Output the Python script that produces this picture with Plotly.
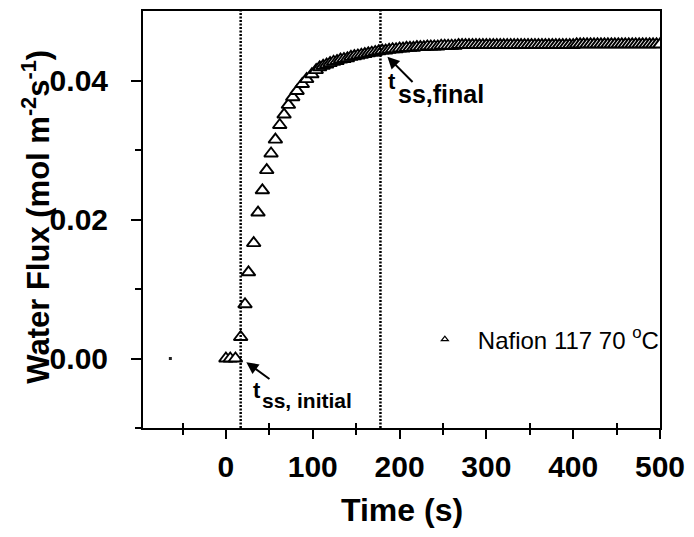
import plotly.graph_objects as go

# Water flux through Nafion 117 at 70 °C after the humidity step
time_s = [
    0, 5, 11, 17, 22, 26, 32, 37, 42, 47, 52, 57, 62, 67, 72, 77, 82, 88, 93, 99, 104,
    108, 112, 116, 120, 124, 128, 132, 136, 140, 144, 148, 152, 156, 160, 164, 168,
    172, 176, 180, 184, 188, 192, 196, 200, 204, 208, 212, 216, 220, 224, 228, 232,
    236, 240, 244, 248, 252, 256, 260, 264, 268, 272, 276, 280, 284, 288, 292, 296,
    300, 304, 308, 312, 316, 320, 324, 328, 332, 336, 340, 344, 348, 352, 356, 360,
    364, 368, 372, 376, 380, 384, 388, 392, 396, 400, 404, 408, 412, 416, 420, 424,
    428, 432, 436, 440, 444, 448, 452, 456, 460, 464, 468, 472, 476, 480, 484, 488,
    492, 496, 500,
]
water_flux = [
    0.0000, 0.0000, 0.0000, 0.0031, 0.0078, 0.0124, 0.0166, 0.0210, 0.0242, 0.0271,
    0.0295, 0.0315, 0.0336, 0.0351, 0.0365, 0.0376, 0.0385, 0.0395, 0.0402, 0.0409,
    0.0415,
    0.0419, 0.0421, 0.0423, 0.0425, 0.0427, 0.0428, 0.0430, 0.0431, 0.0432, 0.0434,
    0.0435, 0.0436, 0.0437, 0.0438, 0.0439, 0.0440, 0.0441, 0.0442, 0.0443, 0.0443,
    0.0444, 0.0445, 0.0445, 0.0446, 0.0446, 0.0447, 0.0447, 0.0447, 0.0448, 0.0448,
    0.0448, 0.0449, 0.0449, 0.0449, 0.0449, 0.0450, 0.0450, 0.0450, 0.0450, 0.0450,
    0.0451, 0.0451, 0.0451, 0.0451, 0.0451, 0.0451, 0.0451, 0.0451, 0.0451, 0.0451,
    0.0451, 0.0451, 0.0451, 0.0451, 0.0451, 0.0451, 0.0451, 0.0451, 0.0451, 0.0451,
    0.0451, 0.0451, 0.0451, 0.0451, 0.0451, 0.0451, 0.0451, 0.0451, 0.0451, 0.0451,
    0.0451, 0.0451, 0.0451, 0.0451, 0.0452, 0.0452, 0.0452, 0.0452, 0.0452, 0.0452,
    0.0452, 0.0452, 0.0452, 0.0452, 0.0452, 0.0452, 0.0452, 0.0452, 0.0452, 0.0452,
    0.0452, 0.0452, 0.0452, 0.0452, 0.0452, 0.0452, 0.0452, 0.0452, 0.0452,
]

# isolated stray point left of the step
stray_time = [-64]
stray_flux = [0.0]

# steady-state markers
t_ss_initial = 17
t_ss_final = 178

x_range = [-95.5, 500]
y_range = [-0.01, 0.05]
x_ticks = [0, 100, 200, 300, 400, 500]
x_minor = [-50, 50, 150, 250, 350, 450]
y_ticks = [0.00, 0.02, 0.04]
y_tick_text = ["0.00", "0.02", "0.04"]

legend_label = "Nafion 117 70 <sup>o</sup>C"
FONT = "Liberation Sans, Arial, Helvetica, sans-serif"

fig = go.Figure()

fig.add_trace(go.Scatter(
    x=time_s, y=water_flux, mode="markers", showlegend=False,
    marker=dict(symbol="triangle-up", size=12, color="white",
                line=dict(color="black", width=1.9)),
))

fig.add_trace(go.Scatter(
    x=stray_time, y=stray_flux, mode="markers", showlegend=False,
    xaxis="x2",
    marker=dict(symbol="square", size=3, color="#222", line=dict(width=0)),
))

# legend entry with a small symbol
fig.add_trace(go.Scatter(
    x=[None], y=[None], mode="markers", name=legend_label,
    marker=dict(symbol="triangle-up-open", size=6, color="black",
                line=dict(color="black", width=1.3)),
))

for tx in (t_ss_initial, t_ss_final):
    fig.add_shape(type="line", xref="x", yref="paper", x0=tx, x1=tx, y0=0, y1=1,
                  line=dict(color="black", width=2.5, dash="2px,1.5px"))

ann = []
# t_ss, initial label and arrow
ann.append(dict(x=36, y=-0.00454, xref="x", yref="y", text="<b>t</b>", showarrow=False,
                font=dict(family=FONT, size=22, color="black"), xanchor="center", yanchor="middle"))
ann.append(dict(x=39.4, y=-0.0061, xref="x", yref="y", text="<b>ss, initial</b>", showarrow=False,
                font=dict(family=FONT, size=21, color="black"), xanchor="left", yanchor="middle"))
ann.append(dict(x=23.5, y=-0.00053, ax=51.9, ay=-0.00311, xref="x", yref="y", axref="x", ayref="y",
                text="", showarrow=True, arrowhead=2, arrowsize=1.2, arrowwidth=2,
                arrowcolor="black", standoff=0))
# t_ss,final label and arrow
ann.append(dict(x=191.7, y=0.03986, xref="x", yref="y", text="<b>t</b>", showarrow=False,
                font=dict(family=FONT, size=22, color="black"), xanchor="center", yanchor="middle"))
ann.append(dict(x=196.3, y=0.0380, xref="x", yref="y", text="<b>ss,final</b>", showarrow=False,
                font=dict(family=FONT, size=25, color="black"), xanchor="left", yanchor="middle"))
ann.append(dict(x=186, y=0.04343, ax=216.7, ay=0.03957, xref="x", yref="y", axref="x", ayref="y",
                text="", showarrow=True, arrowhead=2, arrowsize=1.2, arrowwidth=2,
                arrowcolor="black", standoff=0))
# axis titles
ann.append(dict(x=0.5, y=-0.196, xref="paper", yref="paper", text="<b>Time (s)</b>", showarrow=False,
                font=dict(family=FONT, size=32, color="black"), xanchor="center", yanchor="middle"))
ann.append(dict(x=-0.206, y=0.508, xref="paper", yref="paper", textangle=-90,
                text="<b>Water Flux (mol m<sup>-2</sup>s<sup>-1</sup>)</b>", showarrow=False,
                font=dict(family=FONT, size=31, color="black"), xanchor="center", yanchor="middle"))

fig.update_layout(
    width=694, height=537,
    margin=dict(l=143, r=27, t=9, b=109),
    paper_bgcolor="white", plot_bgcolor="white",
    font=dict(family=FONT, color="black"),
    annotations=ann,
    legend=dict(x=0.52, y=0.212, xanchor="left", yanchor="middle", itemwidth=56,
                bgcolor="rgba(0,0,0,0)", borderwidth=0,
                font=dict(family=FONT, size=24, color="black")),
    xaxis=dict(range=x_range, tickvals=x_ticks, ticks="outside", ticklen=9, tickwidth=2,
               tickcolor="black", showline=True, linewidth=2, linecolor="black", mirror=True,
               showgrid=False, zeroline=False, ticklabelstandoff=2,
               tickfont=dict(family=FONT, size=30, color="black", weight="bold"),
               minor=dict(tickvals=x_minor, ticks="outside", ticklen=5, tickwidth=2, tickcolor="black")),
    xaxis2=dict(range=x_range, overlaying="x", anchor="y", side="bottom",
                tickvals=x_minor, ticks="inside", ticklen=5, tickwidth=2, tickcolor="black",
                showticklabels=False, showline=False, showgrid=False, zeroline=False),
    yaxis=dict(range=y_range, tickvals=y_ticks, ticktext=y_tick_text, ticks="outside",
               ticklen=10, tickwidth=2, tickcolor="black", showline=True, linewidth=2,
               linecolor="black", mirror=True, showgrid=False, zeroline=False,
               ticklabelstandoff=17,
               tickfont=dict(family=FONT, size=30, color="black", weight="bold"),
               minor=dict(tickvals=[0.01, 0.03, -0.01], ticks="outside", ticklen=6, tickwidth=2,
                          tickcolor="black")),
)

fig.write_html("out.html")
